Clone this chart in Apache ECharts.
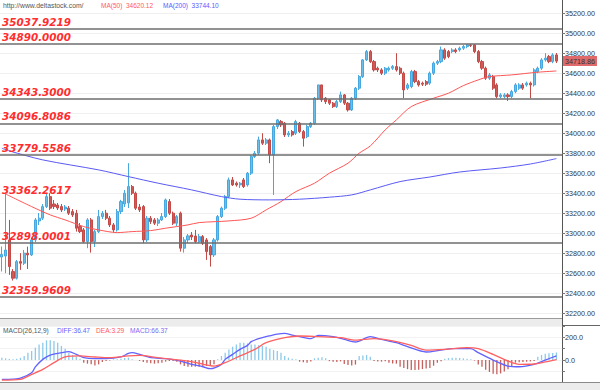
<!DOCTYPE html>
<html><head><meta charset="utf-8">
<script src="https://cdn.jsdelivr.net/npm/echarts@6/dist/echarts.min.js"></script>
<style>html,body{margin:0;padding:0;background:#fff}#c{width:600px;height:390px}</style>
</head><body><div id="c"></div>
<script>
// ---- data ----
// candles: [open, close, low, high]
const candles = [
[32760,32785,32615,32865],[32770,32830,32598,33398],[32931,32664,32581,33131],[32614,32548,32525,32640],
[32548,32714,32535,32730],[32714,32698,32631,32798],[32698,32798,32680,32830],[32798,32781,32640,32864],
[32781,32931,32770,32950],[32931,33131,32910,33150],[33120,33148,33080,33200],[33148,33264,33130,33290],
[33264,33364,33250,33398],[33364,33248,33230,33398],[33290,33264,33240,33330],[33280,33250,33230,33300],
[33264,33231,33210,33290],[33240,33260,33220,33280],[33248,33198,33180,33270],[33214,33181,33160,33240],
[33198,33048,33014,33231],[33064,33014,33000,33100],[33031,32914,32898,33050],[32914,33131,32848,33148],
[33131,32914,32804,33150],[32914,33014,32860,33030],[33014,33164,33000,33231],[33164,33198,33140,33220],
[33198,33148,33130,33231],[33148,33081,33060,33170],[33081,33031,33004,33100],[33031,33214,33014,33240],
[33214,33314,33190,33331],[33290,33398,33260,33430],[33300,33464,33250,33698],[33464,33398,33380,33480],
[33398,33248,33230,33414],[33260,33231,33210,33290],[33264,32931,32898,33280],[32931,33148,32910,33170],
[33148,33114,33090,33170],[33131,33098,33080,33150],[33098,33131,33070,33150],[33131,33164,33120,33200],
[33164,33331,33150,33345],[33314,33198,33180,33340],[33198,33098,33080,33214],[33098,33164,33070,33180],
[33198,32848,32814,33214],[32848,32931,32804,32960],[32931,32971,32900,32990],
[32980,32960,32930,33010],[32970,32914,32898,33031],[32914,32964,32898,32990],[32964,32898,32880,32980],
[32931,32814,32731,32950],[32864,32781,32664,32880],[32781,32931,32760,32950],[32931,33164,32914,33180],
[33164,33248,33150,33264],[33248,33364,33230,33381],[33364,33531,33350,33554],[33531,33481,33470,33560],
[33498,33481,33464,33515],[33481,33498,33450,33510],[33531,33464,33450,33550],[33481,33598,33464,33610],
[33598,33764,33580,33780],[33764,33798,33750,33820],[33798,33931,33780,33964],[33931,33898,33880,33998],
[33898,33931,33880,33950],[33931,33781,33698,33945],[33781,34064,33381,34081],[34064,34131,34040,34140],
[34114,34081,34060,34130],[34098,33981,33960,34110],[33981,33998,33960,34020],[34014,33981,33964,34030],
[33998,34114,33980,34131],[34098,34014,34000,34110],[34014,33948,33864,34030],[33964,34064,33948,34081],
[34064,34098,34050,34110],[34098,34348,34081,34360],[34348,34481,34330,34481],[34481,34331,34310,34481],
[34348,34314,34290,34360],[34331,34298,34280,34340],[34298,34264,34250,34310],[34264,34314,34250,34330],
[34314,34381,34300,34414],[34381,34298,34280,34390],[34298,34231,34214,34310],[34231,34348,34220,34360],
[34348,34448,34330,34460],[34448,34564,34430,34580],[34564,34731,34550,34740],[34731,34814,34720,34830],
[34814,34714,34700,34830],[34714,34631,34614,34730],[34648,34631,34610,34664],[34631,34598,34580,34648],
[34598,34648,34580,34660],[34631,34648,34614,34664],[34648,34664,34630,34680],[34664,34631,34614,34798],
[34648,34598,34580,34664],[34598,34431,34348,34614],[34448,34481,34430,34500],[34464,34614,34448,34631],
[34614,34514,34498,34631],[34514,34481,34464,34530],[34498,34488,34470,34514],[34514,34488,34470,34530],
[34498,34598,34481,34614],[34598,34698,34580,34714],[34698,34714,34680,34731],[34714,34831,34698,34864],
[34831,34748,34731,34848],[34814,34764,34748,34830],[34814,34831,34798,34848],[34831,34814,34798,34848],
[34831,34848,34814,34864],[34848,34864,34831,34881],[34864,34881,34848,34890],[34881,34876,34860,34890],
[34881,34814,34798,34890],[34814,34714,34698,34830],[34714,34648,34631,34731],[34648,34548,34531,34664],
[34548,34581,34531,34600],[34564,34448,34431,34581],[34481,34364,34348,34498],[34364,34381,34348,34398],
[34364,34381,34348,34398],[34381,34364,34321,34398],[34364,34414,34348,34431],[34414,34481,34398,34498],
[34448,34481,34431,34498],[34481,34448,34431,34500],[34481,34498,34464,34514],[34498,34481,34348,34514],
[34481,34631,34464,34648],[34614,34648,34598,34664],[34648,34731,34631,34748],[34731,34748,34714,34798],
[34764,34714,34698,34781],[34714,34781,34698,34798],[34781,34718.86,34700,34800]
];
// moving averages sampled at [candle index, value]
const ma50Pts = [[1,33390],[8,33264],[13,33181],[17,33131],[22,33064],[26,33031],[31,33004],[35,33014],[40,33024],
[44,33048],[50,33081],[53,33104],[61,33121],[67,33148],[71,33231],[75,33314],[79,33414],[84,33498],[88,33598],
[93,33698],[96,33798],[99,33871],[103,34031],[106,34131],[110,34264],[116,34348],[120,34398],[124,34474],
[128,34531],[131,34564],[137,34581],[144,34608],[149,34620.12]];
const ma200Pts = [[0,33848],[2,33821],[11,33731],[26,33631],[34,33564],[42,33498],[51,33431],[59,33364],[64,33338],
[72,33331],[80,33338],[88,33358],[94,33381],[99,33431],[107,33514],[115,33560],[123,33610],[134,33650],
[142,33690],[149,33744.10]];
// MACD panel
const diffPts = [[0,-170],[3,-168],[5,-160],[8,-112],[9,-60],[11,6],[13,44],[16,65],[18,74],[20,50],[22,21],[25,12],
[28,12],[32,27],[34,59],[35,65],[37,50],[40,21],[44,12],[48,-9],[51,-38],[54,-59],[56,-76],[59,-38],[60,6],[62,50],
[64,94],[66,129],[67,162],[69,188],[71,206],[74,229],[76,235],[78,220],[80,206],[83,188],[85,218],[89,206],[92,182],
[95,159],[99,206],[102,182],[106,153],[109,118],[114,71],[118,88],[121,100],[126,100],[128,65],[132,0],[136,-53],
[139,-59],[143,-38],[146,0],[149,36.47]];
const deaPts = [[0,-176],[5,-170],[8,-126],[11,-82],[14,-23],[17,27],[21,36],[25,27],[29,21],[34,36],[37,41],[42,21],
[46,6],[50,-9],[53,-29],[57,-53],[60,-23],[64,36],[68,94],[71,153],[76,197],[80,212],[85,206],[91,197],[95,176],
[100,188],[105,168],[110,129],[114,88],[119,94],[125,109],[128,100],[132,50],[136,-9],[139,-38],[143,-35],[146,-17],
[149,3.29]];
const macdHist = [20,15,10,8,12,20,
36,65,80,109,138,153,174,174,168,153,124,100,65,44,30,12,
-23,-32,-38,-47,-38,-17,
-8,-3,6,6,12,18,21,6,0,-8,-17,-23,-29,-32,-29,-23,-14,-8,-8,-14,
-38,-53,-58,-58,-58,-58,-53,-53,-47,-38,
6,36,65,94,118,138,153,153,147,138,138,130,124,118,100,88,80,65,36,21,12,6,-15,
-20,-23,-12,15,21,25,15,-10,-14,-17,-12,-35,-44,-47,-40,35,40,44,30,-8,-12,-14,-10,-23,-30,-32,
-60,-70,-80,-88,-88,-85,-80,-75,-70,-50,-23,-10,12,18,20,20,18,15,12,8,-5,
-40,-60,-85,-105,-120,-126,-118,-100,-80,-55,-23,-20,-18,-15,-12,-8,30,45,55,60,62,66.37];
const levels = [35037.9219, 34890.0000, 34343.3000, 34096.8086, 33779.5586, 33362.2617, 32898.0001, 32359.9609];
const levelsNoLine = [33362.2617];
const priceTicks = [32200,32400,32600,32800,33000,33200,33400,33600,33800,34000,34200,34400,34600,34800,35000,35200];
const macdLabels = [0, 200];
const lastPrice = 34718.86;
const ma50Last = '34620.12', ma200Last = '33744.10';
const diffLast = '36.47', deaLast = '3.29', macdLast = '66.37';
const categories = candles.map((_, i) => String(i + 1)).concat(['']);

// ---- chart ----
const chart = echarts.init(document.getElementById('c'), null, {renderer: 'svg'});
const F = 'Liberation Sans, Arial, sans-serif';
const txt = (t, left, top, color, size) => ({text: t, left: left, top: top, padding: 0,
  textStyle: {fontSize: size, color: color, fontWeight: 'normal', fontFamily: F}});

const levelData = levels.map(v => ({
  yAxis: v,
  lineStyle: levelsNoLine.includes(v) ? {color: 'rgba(0,0,0,0)', width: 1} : {color: '#6e6e6e', width: 1.6, type: 'solid'},
  label: {show: true, position: 'insideStartTop', distance: [2, 2],
    formatter: () => v.toFixed(4), color: '#ff2d2d', fontWeight: 'bold', fontStyle: 'italic',
    fontSize: 10.4, fontFamily: 'DejaVu Sans, sans-serif'}
}));
levelData.push({
  yAxis: lastPrice, lineStyle: {color: 'rgba(0,0,0,0)', width: 1},
  label: {show: true, position: 'end', distance: 1, formatter: () => lastPrice.toFixed(2),
    backgroundColor: '#e06a6a', color: '#333', padding: [2, 2, 1, 2], fontSize: 7.2, fontFamily: F}
});

const option = {
  animation: false,
  backgroundColor: '#ffffff',
  title: [
    txt('http://www.deltastock.com/', 3, 2, '#555', 6.8),
    txt('MA(50)  ' + ma50Last, 101, 2, '#ff5a5a', 6.5),
    txt('MA(200)  ' + ma200Last, 163, 2, '#5a5aff', 6.5),
    txt('MACD(26,12,9)', 3, 326.5, '#555', 6.6),
    txt('DIFF:' + diffLast, 57, 326.5, '#6464ff', 6.6),
    txt('DEA:' + deaLast, 96, 326.5, '#ff5a5a', 6.6),
    txt('MACD:' + macdLast, 130, 326.5, '#7a6cf0', 6.6)
  ],
  grid: [
    {left: 0, right: 38, top: 0, height: 318},
    {left: 0, right: 38, top: 326, height: 56.75}
  ],
  xAxis: [
    {type: 'category', data: categories, gridIndex: 0, show: false, boundaryGap: true},
    {type: 'category', data: categories, gridIndex: 1, show: false, boundaryGap: true}
  ],
  yAxis: [
    {type: 'value', gridIndex: 0, position: 'right', min: 32150, max: 35330,
      axisLine: {show: true, lineStyle: {color: '#555', width: 1}},
      axisTick: {show: true, customValues: priceTicks, length: 3, lineStyle: {color: '#777'}},
      axisLabel: {customValues: priceTicks, formatter: v => v.toFixed(2), fontSize: 7.2, color: '#333', margin: 3, fontFamily: F},
      splitLine: {show: true, lineStyle: {color: '#efefef', width: 1}}},
    {type: 'value', gridIndex: 1, position: 'right', min: -200, max: 300, interval: 100,
      axisLine: {show: true, lineStyle: {color: '#555', width: 1}},
      axisTick: {show: true, length: 3, lineStyle: {color: '#777'}},
      axisLabel: {formatter: v => macdLabels.includes(v) ? v.toFixed(1) : '', fontSize: 7.2, color: '#333', margin: 3, fontFamily: F},
      splitLine: {show: true, lineStyle: {color: '#f2f2f2', width: 1}}}
  ],
  graphic: [
    {type: 'rect', shape: {x: 0, y: 318, width: 562, height: 8}, style: {fill: '#ececec'}, silent: true},
    {type: 'line', shape: {x1: 0, y1: 318.5, x2: 562, y2: 318.5}, style: {stroke: '#9a9a9a', lineWidth: 1}, silent: true},
    {type: 'line', shape: {x1: 562, y1: 325.5, x2: 600, y2: 325.5}, style: {stroke: '#666', lineWidth: 1}, silent: true},
    {type: 'line', shape: {x1: 562.5, y1: 318, x2: 562.5, y2: 327}, style: {stroke: '#555', lineWidth: 1}, silent: true},
    {type: 'rect', shape: {x: 0, y: 383, width: 600, height: 7}, style: {fill: '#ececec'}, silent: true, z: 10},
    {type: 'line', shape: {x1: 0, y1: 382.5, x2: 600, y2: 382.5}, style: {stroke: '#8a8a8a', lineWidth: 1}, silent: true, z: 10}
  ],
  series: [
    {type: 'candlestick', xAxisIndex: 0, yAxisIndex: 0, data: candles, barWidth: 2.6,
      itemStyle: {color: '#6cbde8', color0: '#cf5b59', borderColor: '#46a8de', borderColor0: '#c44a48', borderWidth: 1},
      markLine: {silent: true, symbol: 'none', animation: false, data: levelData}},
    {type: 'line', xAxisIndex: 0, yAxisIndex: 0, data: ma50Pts, showSymbol: false, smooth: 0.3,
      lineStyle: {color: '#ff5656', width: 1}, z: 3},
    {type: 'line', xAxisIndex: 0, yAxisIndex: 0, data: ma200Pts, showSymbol: false, smooth: 0.3,
      lineStyle: {color: '#5a5af5', width: 1}, z: 3},
    {type: 'bar', xAxisIndex: 1, yAxisIndex: 1, data: macdHist, barWidth: 1.3,
      itemStyle: {color: p => p.value >= 0 ? '#8cc9ea' : '#c65f5c'}},
    {type: 'line', xAxisIndex: 1, yAxisIndex: 1, data: diffPts, showSymbol: false, smooth: 0.3,
      lineStyle: {color: '#6262ff', width: 1.3}},
    {type: 'line', xAxisIndex: 1, yAxisIndex: 1, data: deaPts, showSymbol: false, smooth: 0.3,
      lineStyle: {color: '#ff6060', width: 1.3}}
  ]
};
chart.setOption(option);
</script>
</body></html>
